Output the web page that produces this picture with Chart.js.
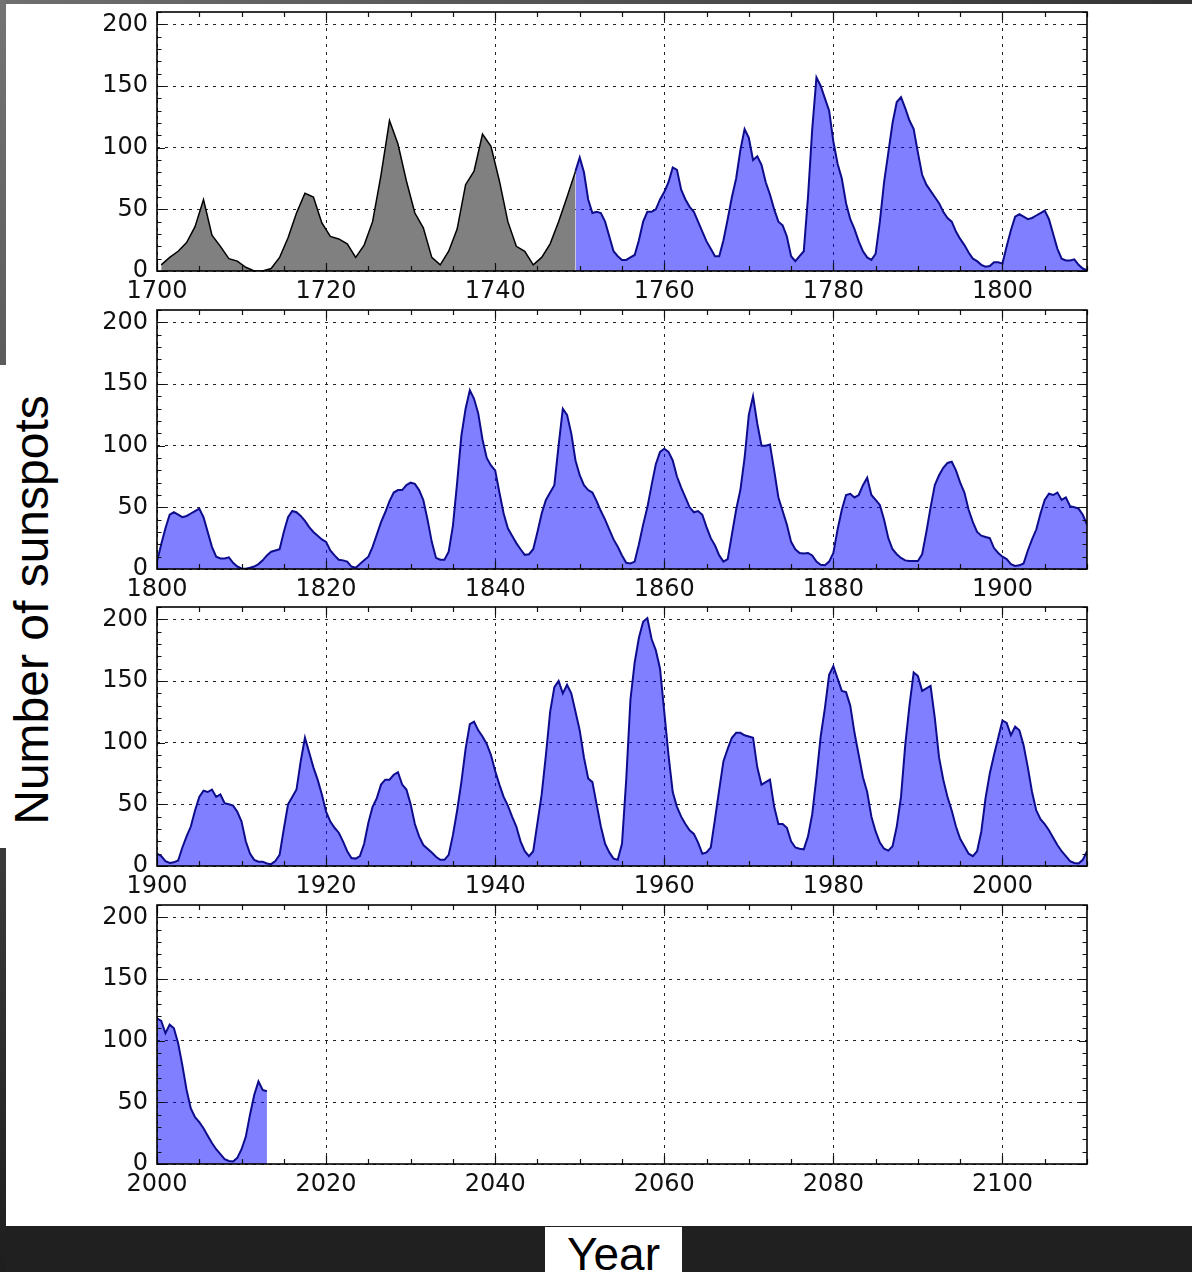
<!DOCTYPE html>
<html>
<head>
<meta charset="utf-8">
<title>Number of sunspots</title>
<script src="https://cdn.jsdelivr.net/npm/chart.js@4.4.0/dist/chart.umd.min.js"></script>
<style>
  html, body { margin: 0; padding: 0; }
  body { width: 1192px; height: 1272px; background: #202020; position: relative; overflow: hidden; }
  #topStrip { position: absolute; left: 0; top: 0; width: 1192px; height: 4px; background: linear-gradient(to right, #6f6f6f, #343434); }
  #leftStrip { position: absolute; left: 0; top: 0; width: 6px; height: 1272px; background: linear-gradient(to bottom, #747474, #1e1e1e); }
  #sheet { position: absolute; left: 6px; top: 4px; width: 1186px; height: 1222px; background: #fff; }
  #ylabBox { position: absolute; left: 0; top: 365px; width: 60px; height: 483px; background: #fff; }
  #ylab { position: absolute; left: -218px; top: 582px; width: 500px; height: 56px; line-height: 56px;
          text-align: center; transform: rotate(-90deg); font: 48px "Liberation Sans", Arial, sans-serif; color: #000; }
  #xlabBox { position: absolute; left: 545px; top: 1227px; width: 137px; height: 45px; background: #fff;
             text-align: center; line-height: 46px; font: 46px "Liberation Sans", Arial, sans-serif; color: #000; }
  canvas { position: absolute; left: 0; }
</style>
</head>
<body>
<div id="topStrip"></div>
<div id="leftStrip"></div>
<div id="sheet"></div>
<div id="ylabBox"></div>
<div id="ylab">Number of sunspots</div>
<div id="xlabBox">Year</div>
<canvas id="p1" width="1192" height="306" style="top:0px"></canvas>
<canvas id="p2" width="1192" height="306" style="top:298px"></canvas>
<canvas id="p3" width="1192" height="306" style="top:595px"></canvas>
<canvas id="p4" width="1192" height="306" style="top:893px"></canvas>
<script>
/* --------------- Yearly means 1700-1749 (plotted at mid-year) --------------- */
const yearlyStart = 1700.5;
const yearly1700 = [
  5, 11, 16, 23, 36, 58, 29, 20, 10, 8,
  3, 0, 0, 2, 11, 27, 47, 63, 60, 39,
  28, 26, 22, 11, 21, 40, 78, 122, 103, 73,
  47, 35, 11, 5, 16, 34, 70, 81, 111, 101,
  73, 40, 20, 16, 5, 11, 22, 40, 60, 80.9
];

/* --------------- Smoothed monthly, read every half year --------------- */
const halfYear = 0.5;
const smoothStarts = [1749.5, 1800, 1900, 2000];
const smooth1749 = [
  81,
  92,80, 58,47, 48,47, 40,28, 16,12, 9,9, 11,13, 25,40, 48,48, 50,58,
  64,72, 84,82, 66,58, 52,48, 40,32, 24,18, 12,12, 25,42, 60,75, 98,115,
  108,90, 93,86, 72,62, 50,40, 37,28, 12,8, 12,16, 60,115, 157,150, 140,130,
  105,87, 75,55, 42,34, 24,16, 11,9, 14,40, 72,96, 120,137, 141,132, 122,115,
  96,78, 70,65, 60,55, 48,43, 40,32, 26,21, 15,10, 8,5, 3.5,4, 7,7
];
const smooth1800 = [
  6,20, 33,44, 46,44, 42,43, 45,47, 49,42, 30,18, 10,8.5, 8.5,9.5, 5,2,
  0.5,0.2, 1,2, 4,7, 11,14, 15,16, 30,42, 47,46, 43,39, 34,30, 27,24,
  22,15, 11,7.5, 7,6, 2,1, 4,7, 10,18, 28,38, 46,55, 62,64, 64,68,
  70,69, 64,56, 40,22, 9,7.5, 7.5,14, 35,70, 108,130, 145,138, 126,105, 90,84,
  80,62, 45,33, 27,21, 16,11.5, 12,16, 30,45, 56,62, 68,100, 130,125, 110,88,
  76,68, 64,62, 55,47, 40,32, 24,18, 11,5, 4.5,6, 20,36, 50,68, 85,95,
  97.5,95, 88,75, 66,58, 50,46, 47,44, 34,25, 19,11, 6,8, 28,48, 64,90,
  125,140, 118,100, 100,101, 80,58, 47,36, 22,16, 13,12.5, 13,11, 6,3.5, 3,6,
  13,32, 48,60, 61,58, 60,68, 74,60, 56,52, 40,25, 16,12, 9,7, 6.5,6.5,
  6.5,12, 30,50, 68,76, 82,86, 87,80, 70,62, 48,38, 30,27, 26,25, 17,13
];
const smooth1900 = [
  10,8, 4,2.5, 3,4.5, 15,24, 32,45, 56,61, 60,62, 56,58, 51,50, 49,44,
  36,20, 10,5, 3.5,3.5, 2,1.5, 4,9, 30,50, 56,62, 85,104, 92,80, 70,58,
  44,36, 31,27, 20,12, 6.5,6, 8,18, 35,48, 55,66, 70,70, 74,76, 66,62,
  50,34, 24,17, 14,11, 7.5,5, 5,9, 25,45, 68,95, 115,117, 110,105, 99,90,
  77,66, 56,49, 40,32, 20,12, 8,12, 35,58, 90,125, 145,150, 140,147, 140,125,
  110,88, 71,68, 50,32, 18,11, 6,5, 18,70, 135,165, 185,198, 201,184, 175,160,
  125,90, 60,48, 40,34, 29,26, 19,10, 11,15, 38,62, 85,95, 104,108, 108,106,
  105,104, 80,66, 68,70, 48,34, 34,31, 20,15, 14,13.5, 24,42, 72,105, 128,155,
  162,152, 142,141, 130,108, 90,72, 60,40, 28,19, 14,12.5, 16,32, 56,98, 130,157,
  154,142, 144,146, 120,88, 70,56, 45,32, 22,16, 10,8, 12,28, 55,75, 90,104
];
const smooth2000 = [
  118,116, 106,113, 110,98, 80,60, 45,38, 34,29, 23,17, 12,8, 4,2.5, 2,5,
  12,22, 40,56, 67,60, 59
];

/* --------------- Axes --------------- */
const panelStarts = [1700, 1800, 1900, 2000];
const panelSpan = 110;
const yTicks = [0, 50, 100, 150, 200];
const yMax = 210;

const grayPts = yearly1700.map((v, i) => ({ x: yearlyStart + i, y: v }));
const bluePts = [smooth1749, smooth1800, smooth1900, smooth2000]
  .flatMap((arr, k) => arr.map((v, i) => ({ x: smoothStarts[k] + i * halfYear, y: v })));

/* --------------- Frame and inward ticks (matplotlib look) --------------- */
const frameTicks = {
  id: 'frameTicks',
  afterDraw(chart) {
    const { ctx, chartArea: a, scales: { x, y } } = chart;
    ctx.save();
    ctx.strokeStyle = '#111';
    ctx.lineWidth = 1.2;
    ctx.beginPath();
    for (let v = x.min; v <= x.max; v += 5) {
      const px = Math.round(x.getPixelForValue(v)) + 0.5;
      const len = (v - x.min) % 20 === 0 ? 8 : 5;
      ctx.moveTo(px, a.bottom); ctx.lineTo(px, a.bottom - len);
      ctx.moveTo(px, a.top); ctx.lineTo(px, a.top + len);
    }
    for (let v = 0; v <= y.max; v += 10) {
      const py = Math.round(y.getPixelForValue(v)) + 0.5;
      const len = v % 50 === 0 ? 8 : 4.5;
      ctx.moveTo(a.left, py); ctx.lineTo(a.left + len, py);
      ctx.moveTo(a.right, py); ctx.lineTo(a.right - len, py);
    }
    ctx.stroke();
    ctx.lineWidth = 1.6;
    ctx.strokeStyle = '#000';
    ctx.strokeRect(a.left, a.top, a.width, a.height);
    ctx.restore();
  }
};

Chart.defaults.font.family = 'DejaVu Sans';

const makePanel = (id, xmin) => new Chart(document.getElementById(id), {
  type: 'line',
  data: {
    datasets: [
      { data: grayPts, borderColor: '#000', backgroundColor: '#808080', borderWidth: 1.5,
        fill: 'origin', pointRadius: 0, tension: 0 },
      { data: bluePts, borderColor: '#0c0c8c', backgroundColor: 'rgba(0,0,255,0.5)', borderWidth: 2,
        fill: 'origin', pointRadius: 0, tension: 0 },
    ],
  },
  options: {
    responsive: false,
    animation: false,
    events: [],
    layout: { padding: { left: 0, right: 105, top: 12, bottom: 0 } },
    plugins: { legend: { display: false }, tooltip: { enabled: false } },
    scales: {
      x: {
        type: 'linear', min: xmin, max: xmin + panelSpan,
        afterBuildTicks: (s) => { s.ticks = s.ticks.filter((t) => (t.value - xmin) % 20 === 0 && t.value < xmin + panelSpan); },
        afterFit: (s) => { s.height = 35; s.paddingLeft = 0; s.paddingRight = 0; },
        ticks: { stepSize: 20, autoSkip: false, maxRotation: 0, padding: 6, color: '#111',
                 font: { size: 24 }, callback: (v) => String(v) },
        grid: { color: '#222', lineWidth: 1, drawTicks: false },
        border: { display: false, dash: [3, 5] },
      },
      y: {
        min: 0, max: yMax,
        afterBuildTicks: (s) => { s.ticks = yTicks.map((v) => ({ value: v })); },
        afterFit: (s) => { s.width = 157; s.paddingTop = 0; s.paddingBottom = 0; },
        ticks: { autoSkip: false, padding: 9, color: '#111', font: { size: 24 } },
        grid: { color: '#222', lineWidth: 1, drawTicks: false },
        border: { display: false, dash: [3, 5] },
      },
    },
  },
  plugins: [frameTicks],
});

['p1', 'p2', 'p3', 'p4'].forEach((id, i) => makePanel(id, panelStarts[i]));
</script>
</body>
</html>
